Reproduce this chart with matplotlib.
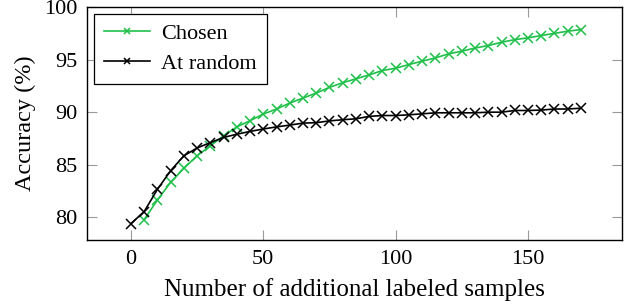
import matplotlib.pyplot as plt
import numpy as np

plt.rcParams['font.family'] = ['Liberation Serif', 'DejaVu Serif']
plt.rcParams['mathtext.fontset'] = 'stix'

# data
x_chosen = np.arange(5, 171, 5)
acc_chosen = [79.78, 81.65, 83.33, 84.66, 85.86, 86.8, 87.76, 88.6, 89.19, 89.82,
              90.3, 90.87, 91.34, 91.82, 92.36, 92.8, 93.17, 93.55, 93.96, 94.18,
              94.53, 94.85, 95.16, 95.55, 95.8, 96.1, 96.34, 96.65, 96.9, 97.07,
              97.29, 97.5, 97.7, 97.86]

x_random = np.arange(0, 171, 5)
acc_random = [79.4, 80.55, 82.66, 84.44, 85.85, 86.6, 87.1, 87.6, 87.9, 88.17,
              88.4, 88.6, 88.77, 88.96, 89.0, 89.17, 89.28, 89.37, 89.6, 89.68,
              89.68, 89.75, 89.84, 89.94, 89.94, 89.94, 89.94, 90.0, 90.0, 90.16,
              90.16, 90.2, 90.3, 90.3, 90.38]

fig = plt.figure(figsize=(6.26, 3.06), dpi=100)
ax = fig.add_axes([0.139, 0.216, 0.8546, 0.761])

ax.plot(x_chosen, acc_chosen, color='#1fc04a', marker='x', markersize=6.5,
        linewidth=1.2, markeredgewidth=1.1, label='Chosen')
ax.plot(x_random, acc_random, color='black', marker='x', markersize=6.5,
        linewidth=1.2, markeredgewidth=1.1, label='At random')

ax.set_xlim(-16.6, 185.5)
ax.set_ylim(77.85, 100)
ax.set_xticks([0, 50, 100, 150])
ax.set_yticks([80, 85, 90, 95, 100])

ax.tick_params(direction='in', length=7, width=0.8, color='#999999',
               top=True, right=True, labelsize=16, pad=7)
for s in ax.spines.values():
    s.set_linewidth(1.0)

ax.set_xlabel('Number of additional labeled samples', fontsize=18, labelpad=7)
ax.set_ylabel('Accuracy (%)', fontsize=17.5, labelpad=6)

leg = ax.legend(loc='upper left', fontsize=16, fancybox=False, edgecolor='black',
                framealpha=1, handlelength=2.1, handletextpad=0.5,
                borderaxespad=0.3, labelspacing=0.4, borderpad=0.45)
leg.get_frame().set_linewidth(0.9)
for h in leg.legend_handles:
    h.set_markersize(5)

fig.savefig('out.png', dpi=100)
